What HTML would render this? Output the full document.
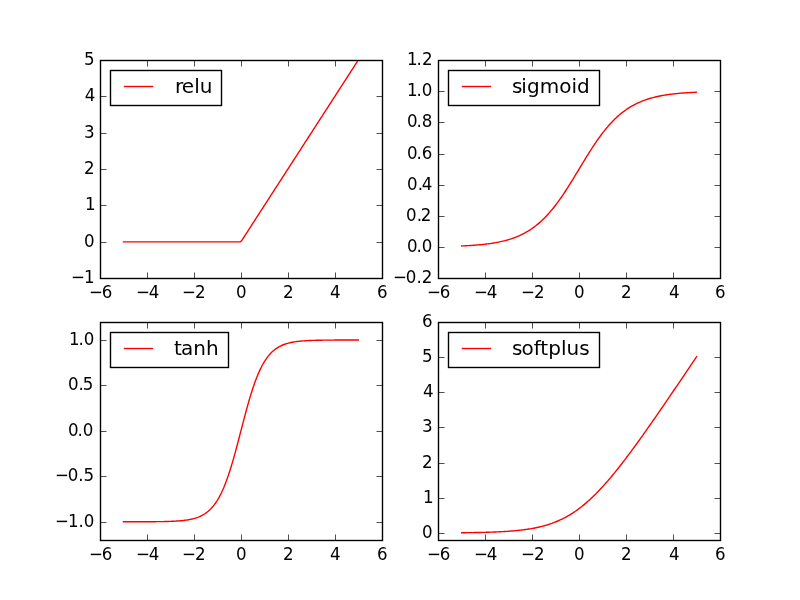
<!DOCTYPE html>
<html lang="en"><head><meta charset="utf-8"><title>Activation functions</title>
<style>
html,body{margin:0;padding:0;background:#fff;width:800px;height:600px;overflow:hidden}
svg{display:block}
text{font-family:"DejaVu Sans","Liberation Sans",sans-serif;fill:#000}
.t{font-size:16.667px}
.xm{text-anchor:middle}
.ye{text-anchor:end}
.lt{font-size:20px}
.cv{fill:none;stroke:#f00;stroke-width:1.389;stroke-linecap:square;stroke-linejoin:round}
.fr{fill:none;stroke:#000;stroke-width:1.389}
.tk{fill:none;stroke:#000;stroke-width:.694}
.lg{fill:#fff;stroke:#000;stroke-width:1.389}
.ll{fill:none;stroke:#f00;stroke-width:1.389;stroke-linecap:square}
</style></head><body>
<svg width="800" height="600" viewBox="0 0 800 600">
<rect width="800" height="600" fill="#fff"/>
<g class="ax">
<clipPath id="c_relu"><rect x="100" y="60" width="281.82" height="218.18"/></clipPath>
<polyline class="cv" clip-path="url(#c_relu)" points="123.48,241.82 124.66,241.82 125.85,241.82 127.03,241.82 128.21,241.82 129.39,241.82 130.57,241.82 131.75,241.82 132.93,241.82 134.11,241.82 135.29,241.82 136.47,241.82 137.65,241.82 138.83,241.82 140.01,241.82 141.19,241.82 142.37,241.82 143.55,241.82 144.73,241.82 145.91,241.82 147.09,241.82 148.27,241.82 149.45,241.82 150.63,241.82 151.81,241.82 152.99,241.82 154.17,241.82 155.35,241.82 156.53,241.82 157.71,241.82 158.89,241.82 160.07,241.82 161.25,241.82 162.43,241.82 163.61,241.82 164.79,241.82 165.97,241.82 167.15,241.82 168.33,241.82 169.51,241.82 170.69,241.82 171.87,241.82 173.05,241.82 174.23,241.82 175.41,241.82 176.59,241.82 177.77,241.82 178.95,241.82 180.13,241.82 181.31,241.82 182.49,241.82 183.67,241.82 184.85,241.82 186.03,241.82 187.21,241.82 188.39,241.82 189.57,241.82 190.75,241.82 191.93,241.82 193.11,241.82 194.29,241.82 195.47,241.82 196.65,241.82 197.83,241.82 199.01,241.82 200.19,241.82 201.37,241.82 202.55,241.82 203.73,241.82 204.91,241.82 206.09,241.82 207.28,241.82 208.46,241.82 209.64,241.82 210.82,241.82 212,241.82 213.18,241.82 214.36,241.82 215.54,241.82 216.72,241.82 217.9,241.82 219.08,241.82 220.26,241.82 221.44,241.82 222.62,241.82 223.8,241.82 224.98,241.82 226.16,241.82 227.34,241.82 228.52,241.82 229.7,241.82 230.88,241.82 232.06,241.82 233.24,241.82 234.42,241.82 235.6,241.82 236.78,241.82 237.96,241.82 239.14,241.82 240.32,241.82 241.5,240.9 242.68,239.08 243.86,237.25 245.04,235.42 246.22,233.6 247.4,231.77 248.58,229.94 249.76,228.11 250.94,226.29 252.12,224.46 253.3,222.63 254.48,220.8 255.66,218.98 256.84,217.15 258.02,215.32 259.2,213.49 260.38,211.67 261.56,209.84 262.74,208.01 263.92,206.19 265.1,204.36 266.28,202.53 267.46,200.7 268.64,198.88 269.82,197.05 271,195.22 272.18,193.39 273.36,191.57 274.54,189.74 275.72,187.91 276.9,186.08 278.08,184.26 279.26,182.43 280.44,180.6 281.62,178.78 282.8,176.95 283.98,175.12 285.16,173.29 286.34,171.47 287.52,169.64 288.7,167.81 289.89,165.98 291.07,164.16 292.25,162.33 293.43,160.5 294.61,158.68 295.79,156.85 296.97,155.02 298.15,153.19 299.33,151.37 300.51,149.54 301.69,147.71 302.87,145.88 304.05,144.06 305.23,142.23 306.41,140.4 307.59,138.57 308.77,136.75 309.95,134.92 311.13,133.09 312.31,131.27 313.49,129.44 314.67,127.61 315.85,125.78 317.03,123.96 318.21,122.13 319.39,120.3 320.57,118.47 321.75,116.65 322.93,114.82 324.11,112.99 325.29,111.16 326.47,109.34 327.65,107.51 328.83,105.68 330.01,103.86 331.19,102.03 332.37,100.2 333.55,98.37 334.73,96.55 335.91,94.72 337.09,92.89 338.27,91.06 339.45,89.24 340.63,87.41 341.81,85.58 342.99,83.76 344.17,81.93 345.35,80.1 346.53,78.27 347.71,76.45 348.89,74.62 350.07,72.79 351.25,70.96 352.43,69.14 353.61,67.31 354.79,65.48 355.97,63.65 357.15,61.83 358.33,60"/>
<path class="tk" d="M147.5 278.5v-6M147.5 60.5v6M194.5 278.5v-6M194.5 60.5v6M241.5 278.5v-6M241.5 60.5v6M288.5 278.5v-6M288.5 60.5v6M335.5 278.5v-6M335.5 60.5v6M100.5 242.5h6M382.5 242.5h-6M100.5 205.5h6M382.5 205.5h-6M100.5 169.5h6M382.5 169.5h-6M100.5 133.5h6M382.5 133.5h-6M100.5 96.5h6M382.5 96.5h-6"/>
<rect class="fr" x="100.5" y="60.5" width="282" height="218"/>
<text class="t" transform="translate(0 298) scale(1 1.07)" x="88.96 101.66">−6</text>
<text class="t" transform="translate(0 298) scale(1 1.07)" x="136.04 148.74">−4</text>
<text class="t" transform="translate(0 298) scale(1 1.07)" x="182.03 194.98">−2</text>
<text class="t" transform="translate(0 298) scale(1 1.07)" x="236.12">0</text>
<text class="t" transform="translate(0 298) scale(1 1.07)" x="282.89">2</text>
<text class="t" transform="translate(0 298) scale(1 1.07)" x="330.1">4</text>
<text class="t" transform="translate(0 298) scale(1 1.07)" x="377.1">6</text>
<text class="t" transform="translate(0 283) scale(1 1.07)" x="71.11 84.06">−1</text>
<text class="t" transform="translate(0 247) scale(1 1.07)" x="84.08">0</text>
<text class="t" transform="translate(0 210) scale(1 1.07)" x="85.12">1</text>
<text class="t" transform="translate(0 174) scale(1 1.07)" x="84.13">2</text>
<text class="t" transform="translate(0 138) scale(1 1.07)" x="84.07">3</text>
<text class="t" transform="translate(0 101) scale(1 1.07)" x="84.63">4</text>
<text class="t" transform="translate(0 65) scale(1 1.07)" x="83.93">5</text>
<rect class="lg" x="110.5" y="70.5" width="111" height="35"/>
<path class="ll" d="M124.5 86.5h28"/>
<text class="lt" x="174.99 181.77 194.32 199.63" y="93">relu</text>
</g>
<g class="ax">
<clipPath id="c_sigmoid"><rect x="438.18" y="60" width="281.82" height="218.18"/></clipPath>
<polyline class="cv" clip-path="url(#c_sigmoid)" points="461.67,245.97 462.85,245.92 464.03,245.86 465.21,245.8 466.39,245.74 467.57,245.67 468.75,245.61 469.93,245.53 471.11,245.46 472.29,245.38 473.47,245.3 474.65,245.21 475.83,245.12 477.01,245.02 478.19,244.92 479.37,244.81 480.55,244.7 481.73,244.58 482.91,244.46 484.09,244.33 485.27,244.2 486.45,244.05 487.63,243.9 488.81,243.75 489.99,243.58 491.17,243.41 492.35,243.23 493.53,243.04 494.71,242.84 495.89,242.63 497.07,242.41 498.25,242.18 499.43,241.94 500.61,241.69 501.79,241.42 502.97,241.15 504.15,240.86 505.33,240.55 506.51,240.23 507.69,239.9 508.87,239.55 510.05,239.19 511.23,238.8 512.41,238.4 513.59,237.99 514.77,237.55 515.95,237.09 517.13,236.61 518.31,236.12 519.49,235.6 520.67,235.05 521.85,234.49 523.03,233.89 524.21,233.28 525.39,232.64 526.57,231.97 527.75,231.27 528.93,230.54 530.11,229.79 531.3,229 532.48,228.19 533.66,227.34 534.84,226.46 536.02,225.55 537.2,224.6 538.38,223.62 539.56,222.6 540.74,221.55 541.92,220.46 543.1,219.33 544.28,218.17 545.46,216.97 546.64,215.73 547.82,214.46 549,213.15 550.18,211.8 551.36,210.41 552.54,208.98 553.72,207.52 554.9,206.02 556.08,204.48 557.26,202.91 558.44,201.3 559.62,199.66 560.8,197.99 561.98,196.29 563.16,194.55 564.34,192.79 565.52,191 566.7,189.18 567.88,187.35 569.06,185.48 570.24,183.6 571.42,181.7 572.6,179.79 573.78,177.86 574.96,175.93 576.14,173.98 577.32,172.03 578.5,170.07 579.68,168.11 580.86,166.16 582.04,164.2 583.22,162.26 584.4,160.32 585.58,158.39 586.76,156.48 587.94,154.58 589.12,152.7 590.3,150.84 591.48,149 592.66,147.18 593.84,145.39 595.02,143.63 596.2,141.89 597.38,140.19 598.56,138.52 599.74,136.88 600.92,135.27 602.1,133.7 603.28,132.16 604.46,130.66 605.64,129.2 606.82,127.78 608,126.39 609.18,125.04 610.36,123.72 611.54,122.45 612.72,121.21 613.91,120.01 615.09,118.85 616.27,117.72 617.45,116.63 618.63,115.58 619.81,114.56 620.99,113.58 622.17,112.64 623.35,111.72 624.53,110.84 625.71,109.99 626.89,109.18 628.07,108.39 629.25,107.64 630.43,106.91 631.61,106.22 632.79,105.55 633.97,104.9 635.15,104.29 636.33,103.7 637.51,103.13 638.69,102.59 639.87,102.07 641.05,101.57 642.23,101.09 643.41,100.63 644.59,100.2 645.77,99.78 646.95,99.38 648.13,99 649.31,98.63 650.49,98.28 651.67,97.95 652.85,97.63 654.03,97.33 655.21,97.04 656.39,96.76 657.57,96.49 658.75,96.24 659.93,96 661.11,95.77 662.29,95.55 663.47,95.34 664.65,95.14 665.83,94.95 667.01,94.77 668.19,94.6 669.37,94.43 670.55,94.28 671.73,94.13 672.91,93.99 674.09,93.85 675.27,93.72 676.45,93.6 677.63,93.48 678.81,93.37 679.99,93.26 681.17,93.16 682.35,93.06 683.53,92.97 684.71,92.89 685.89,92.8 687.07,92.72 688.25,92.65 689.43,92.58 690.61,92.51 691.79,92.44 692.97,92.38 694.15,92.32 695.34,92.27 696.52,92.21"/>
<path class="tk" d="M485.5 278.5v-6M485.5 60.5v6M532.5 278.5v-6M532.5 60.5v6M579.5 278.5v-6M579.5 60.5v6M626.5 278.5v-6M626.5 60.5v6M673.5 278.5v-6M673.5 60.5v6M438.5 247.5h6M720.5 247.5h-6M438.5 216.5h6M720.5 216.5h-6M438.5 185.5h6M720.5 185.5h-6M438.5 154.5h6M720.5 154.5h-6M438.5 122.5h6M720.5 122.5h-6M438.5 91.5h6M720.5 91.5h-6"/>
<rect class="fr" x="438.5" y="60.5" width="282" height="218"/>
<text class="t" transform="translate(0 298) scale(1 1.07)" x="427.01 439.71">−6</text>
<text class="t" transform="translate(0 298) scale(1 1.07)" x="474.01 486.71">−4</text>
<text class="t" transform="translate(0 298) scale(1 1.07)" x="521.02 533.97">−2</text>
<text class="t" transform="translate(0 298) scale(1 1.07)" x="574.04">0</text>
<text class="t" transform="translate(0 298) scale(1 1.07)" x="621.06">2</text>
<text class="t" transform="translate(0 298) scale(1 1.07)" x="668.99">4</text>
<text class="t" transform="translate(0 298) scale(1 1.07)" x="715.02">6</text>
<text class="t" transform="translate(0 283) scale(1 1.07)" x="392.94 405.65 416.49 421.78">−0.2</text>
<text class="t" transform="translate(0 252) scale(1 1.07)" x="407.11 416.45 421.74">0.0</text>
<text class="t" transform="translate(0 221) scale(1 1.07)" x="406.05 416.64 420.68">0.2</text>
<text class="t" transform="translate(0 190) scale(1 1.07)" x="407.05 417.64 421.68">0.4</text>
<text class="t" transform="translate(0 159) scale(1 1.07)" x="406.92 416.51 421.8">0.6</text>
<text class="t" transform="translate(0 127) scale(1 1.07)" x="407.05 416.39 421.68">0.8</text>
<text class="t" transform="translate(0 96) scale(1 1.07)" x="406.95 416.54 421.83">1.0</text>
<text class="t" transform="translate(0 65) scale(1 1.07)" x="407.01 416.6 421.89">1.2</text>
<rect class="lg" x="448.5" y="70.5" width="151" height="35"/>
<path class="ll" d="M462.5 86.5h28"/>
<text class="lt" x="511.99 521.15 526.96 539.66 559.13 571.38 576.93" y="93">sigmoid</text>
</g>
<g class="ax">
<clipPath id="c_tanh"><rect x="100" y="321.82" width="281.82" height="218.18"/></clipPath>
<polyline class="cv" clip-path="url(#c_tanh)" points="123.48,521.81 124.66,521.81 125.85,521.81 127.03,521.81 128.21,521.81 129.39,521.8 130.57,521.8 131.75,521.8 132.93,521.8 134.11,521.8 135.29,521.8 136.47,521.79 137.65,521.79 138.83,521.79 140.01,521.78 141.19,521.78 142.37,521.78 143.55,521.77 144.73,521.77 145.91,521.76 147.09,521.76 148.27,521.75 149.45,521.74 150.63,521.73 151.81,521.73 152.99,521.72 154.17,521.71 155.35,521.69 156.53,521.68 157.71,521.67 158.89,521.65 160.07,521.63 161.25,521.61 162.43,521.59 163.61,521.57 164.79,521.54 165.97,521.51 167.15,521.48 168.33,521.44 169.51,521.4 170.69,521.36 171.87,521.31 173.05,521.26 174.23,521.2 175.41,521.13 176.59,521.06 177.77,520.98 178.95,520.89 180.13,520.8 181.31,520.69 182.49,520.57 183.67,520.44 184.85,520.3 186.03,520.14 187.21,519.96 188.39,519.77 189.57,519.55 190.75,519.31 191.93,519.05 193.11,518.77 194.29,518.45 195.47,518.1 196.65,517.72 197.83,517.29 199.01,516.83 200.19,516.32 201.37,515.75 202.55,515.14 203.73,514.46 204.91,513.72 206.09,512.9 207.28,512.01 208.46,511.03 209.64,509.97 210.82,508.81 212,507.54 213.18,506.16 214.36,504.66 215.54,503.03 216.72,501.27 217.9,499.37 219.08,497.31 220.26,495.1 221.44,492.73 222.62,490.19 223.8,487.48 224.98,484.59 226.16,481.52 227.34,478.28 228.52,474.87 229.7,471.29 230.88,467.54 232.06,463.64 233.24,459.59 234.42,455.41 235.6,451.12 236.78,446.74 237.96,442.27 239.14,437.75 240.32,433.19 241.5,428.63 242.68,424.07 243.86,419.55 245.04,415.08 246.22,410.7 247.4,406.4 248.58,402.23 249.76,398.18 250.94,394.28 252.12,390.53 253.3,386.95 254.48,383.53 255.66,380.29 256.84,377.23 258.02,374.34 259.2,371.63 260.38,369.09 261.56,366.72 262.74,364.51 263.92,362.45 265.1,360.55 266.28,358.79 267.46,357.16 268.64,355.66 269.82,354.28 271,353.01 272.18,351.85 273.36,350.78 274.54,349.81 275.72,348.92 276.9,348.1 278.08,347.36 279.26,346.68 280.44,346.06 281.62,345.5 282.8,344.99 283.98,344.52 285.16,344.1 286.34,343.72 287.52,343.37 288.7,343.05 289.89,342.76 291.07,342.5 292.25,342.27 293.43,342.05 294.61,341.86 295.79,341.68 296.97,341.52 298.15,341.38 299.33,341.25 300.51,341.13 301.69,341.02 302.87,340.92 304.05,340.84 305.23,340.76 306.41,340.68 307.59,340.62 308.77,340.56 309.95,340.51 311.13,340.46 312.31,340.41 313.49,340.38 314.67,340.34 315.85,340.31 317.03,340.28 318.21,340.25 319.39,340.23 320.57,340.21 321.75,340.19 322.93,340.17 324.11,340.15 325.29,340.14 326.47,340.12 327.65,340.11 328.83,340.1 330.01,340.09 331.19,340.08 332.37,340.08 333.55,340.07 334.73,340.06 335.91,340.06 337.09,340.05 338.27,340.05 339.45,340.04 340.63,340.04 341.81,340.03 342.99,340.03 344.17,340.03 345.35,340.02 346.53,340.02 347.71,340.02 348.89,340.02 350.07,340.02 351.25,340.02 352.43,340.01 353.61,340.01 354.79,340.01 355.97,340.01 357.15,340.01 358.33,340.01"/>
<path class="tk" d="M147.5 540.5v-6M147.5 322.5v6M194.5 540.5v-6M194.5 322.5v6M241.5 540.5v-6M241.5 322.5v6M288.5 540.5v-6M288.5 322.5v6M335.5 540.5v-6M335.5 322.5v6M100.5 522.5h6M382.5 522.5h-6M100.5 476.5h6M382.5 476.5h-6M100.5 431.5h6M382.5 431.5h-6M100.5 385.5h6M382.5 385.5h-6M100.5 340.5h6M382.5 340.5h-6"/>
<rect class="fr" x="100.5" y="322.5" width="282" height="218"/>
<text class="t" transform="translate(0 560) scale(1 1.07)" x="88.98 101.68">−6</text>
<text class="t" transform="translate(0 560) scale(1 1.07)" x="136.04 148.74">−4</text>
<text class="t" transform="translate(0 560) scale(1 1.07)" x="182.03 194.98">−2</text>
<text class="t" transform="translate(0 560) scale(1 1.07)" x="236.12">0</text>
<text class="t" transform="translate(0 560) scale(1 1.07)" x="282.89">2</text>
<text class="t" transform="translate(0 560) scale(1 1.07)" x="330.1">4</text>
<text class="t" transform="translate(0 560) scale(1 1.07)" x="377.1">6</text>
<text class="t" transform="translate(0 527) scale(1 1.07)" x="54.98 67.94 78.53 83.82">−1.0</text>
<text class="t" transform="translate(0 481) scale(1 1.07)" x="54.95 67.66 78.25 83.54">−0.5</text>
<text class="t" transform="translate(0 436) scale(1 1.07)" x="67.9 77.49 82.78">0.0</text>
<text class="t" transform="translate(0 390) scale(1 1.07)" x="67.96 78.55 82.84">0.5</text>
<text class="t" transform="translate(0 345) scale(1 1.07)" x="68.91 78.5 83.79">1.0</text>
<rect class="lg" x="110.5" y="332.5" width="118" height="35"/>
<path class="ll" d="M124.5 348.5h28"/>
<text class="lt" x="174.05 180.88 193.14 206.07" y="355">tanh</text>
</g>
<g class="ax">
<clipPath id="c_softplus"><rect x="438.18" y="321.82" width="281.82" height="218.18"/></clipPath>
<polyline class="cv" clip-path="url(#c_softplus)" points="461.67,532.73 462.85,532.71 464.03,532.7 465.21,532.69 466.39,532.67 467.57,532.66 468.75,532.64 469.93,532.63 471.11,532.61 472.29,532.59 473.47,532.57 474.65,532.55 475.83,532.53 477.01,532.51 478.19,532.49 479.37,532.46 480.55,532.44 481.73,532.41 482.91,532.38 484.09,532.35 485.27,532.32 486.45,532.29 487.63,532.25 488.81,532.22 489.99,532.18 491.17,532.14 492.35,532.1 493.53,532.05 494.71,532.01 495.89,531.96 497.07,531.91 498.25,531.85 499.43,531.8 500.61,531.74 501.79,531.68 502.97,531.61 504.15,531.54 505.33,531.47 506.51,531.4 507.69,531.32 508.87,531.24 510.05,531.15 511.23,531.06 512.41,530.96 513.59,530.86 514.77,530.76 515.95,530.65 517.13,530.53 518.31,530.41 519.49,530.28 520.67,530.15 521.85,530.01 523.03,529.87 524.21,529.72 525.39,529.56 526.57,529.39 527.75,529.21 528.93,529.03 530.11,528.84 531.3,528.64 532.48,528.43 533.66,528.21 534.84,527.98 536.02,527.75 537.2,527.5 538.38,527.24 539.56,526.97 540.74,526.68 541.92,526.39 543.1,526.08 544.28,525.76 545.46,525.43 546.64,525.08 547.82,524.72 549,524.34 550.18,523.95 551.36,523.54 552.54,523.12 553.72,522.68 554.9,522.22 556.08,521.75 557.26,521.25 558.44,520.75 559.62,520.22 560.8,519.67 561.98,519.1 563.16,518.52 564.34,517.91 565.52,517.29 566.7,516.64 567.88,515.98 569.06,515.29 570.24,514.58 571.42,513.85 572.6,513.1 573.78,512.32 574.96,511.53 576.14,510.71 577.32,509.87 578.5,509.01 579.68,508.12 580.86,507.22 582.04,506.29 583.22,505.34 584.4,504.37 585.58,503.37 586.76,502.36 587.94,501.32 589.12,500.26 590.3,499.18 591.48,498.07 592.66,496.95 593.84,495.81 595.02,494.65 596.2,493.46 597.38,492.26 598.56,491.04 599.74,489.8 600.92,488.54 602.1,487.26 603.28,485.97 604.46,484.66 605.64,483.33 606.82,481.98 608,480.62 609.18,479.25 610.36,477.85 611.54,476.45 612.72,475.03 613.91,473.59 615.09,472.15 616.27,470.68 617.45,469.21 618.63,467.73 619.81,466.23 620.99,464.72 622.17,463.2 623.35,461.67 624.53,460.13 625.71,458.58 626.89,457.02 628.07,455.45 629.25,453.88 630.43,452.29 631.61,450.7 632.79,449.09 633.97,447.49 635.15,445.87 636.33,444.25 637.51,442.62 638.69,440.98 639.87,439.34 641.05,437.69 642.23,436.04 643.41,434.38 644.59,432.72 645.77,431.05 646.95,429.38 648.13,427.7 649.31,426.02 650.49,424.33 651.67,422.64 652.85,420.95 654.03,419.25 655.21,417.55 656.39,415.85 657.57,414.14 658.75,412.43 659.93,410.72 661.11,409.01 662.29,407.29 663.47,405.57 664.65,403.85 665.83,402.12 667.01,400.39 668.19,398.67 669.37,396.94 670.55,395.2 671.73,393.47 672.91,391.73 674.09,390 675.27,388.26 676.45,386.52 677.63,384.78 678.81,383.03 679.99,381.29 681.17,379.54 682.35,377.8 683.53,376.05 684.71,374.3 685.89,372.55 687.07,370.8 688.25,369.05 689.43,367.3 690.61,365.55 691.79,363.79 692.97,362.04 694.15,360.28 695.34,358.53 696.52,356.77"/>
<path class="tk" d="M485.5 540.5v-6M485.5 322.5v6M532.5 540.5v-6M532.5 322.5v6M579.5 540.5v-6M579.5 322.5v6M626.5 540.5v-6M626.5 322.5v6M673.5 540.5v-6M673.5 322.5v6M438.5 533.5h6M720.5 533.5h-6M438.5 498.5h6M720.5 498.5h-6M438.5 463.5h6M720.5 463.5h-6M438.5 427.5h6M720.5 427.5h-6M438.5 392.5h6M720.5 392.5h-6M438.5 357.5h6M720.5 357.5h-6"/>
<rect class="fr" x="438.5" y="322.5" width="282" height="218"/>
<text class="t" transform="translate(0 560) scale(1 1.07)" x="427.1 439.8">−6</text>
<text class="t" transform="translate(0 560) scale(1 1.07)" x="474.01 486.71">−4</text>
<text class="t" transform="translate(0 560) scale(1 1.07)" x="521.02 533.97">−2</text>
<text class="t" transform="translate(0 560) scale(1 1.07)" x="574.04">0</text>
<text class="t" transform="translate(0 560) scale(1 1.07)" x="621.06">2</text>
<text class="t" transform="translate(0 560) scale(1 1.07)" x="668.99">4</text>
<text class="t" transform="translate(0 560) scale(1 1.07)" x="715.02">6</text>
<text class="t" transform="translate(0 538) scale(1 1.07)" x="422.02">0</text>
<text class="t" transform="translate(0 503) scale(1 1.07)" x="423.04">1</text>
<text class="t" transform="translate(0 468) scale(1 1.07)" x="422.08">2</text>
<text class="t" transform="translate(0 432) scale(1 1.07)" x="422.02">3</text>
<text class="t" transform="translate(0 397) scale(1 1.07)" x="423.11">4</text>
<text class="t" transform="translate(0 362) scale(1 1.07)" x="422.11">5</text>
<text class="t" transform="translate(0 327) scale(1 1.07)" x="422.09">6</text>
<rect class="lg" x="448.5" y="332.5" width="151" height="35"/>
<path class="ll" d="M462.5 348.5h28"/>
<text class="lt" x="511.99 521.4 533.65 540.33 548.18 561.11 566.43 579.35" y="355">softplus</text>
</g>
</svg>
</body></html>
